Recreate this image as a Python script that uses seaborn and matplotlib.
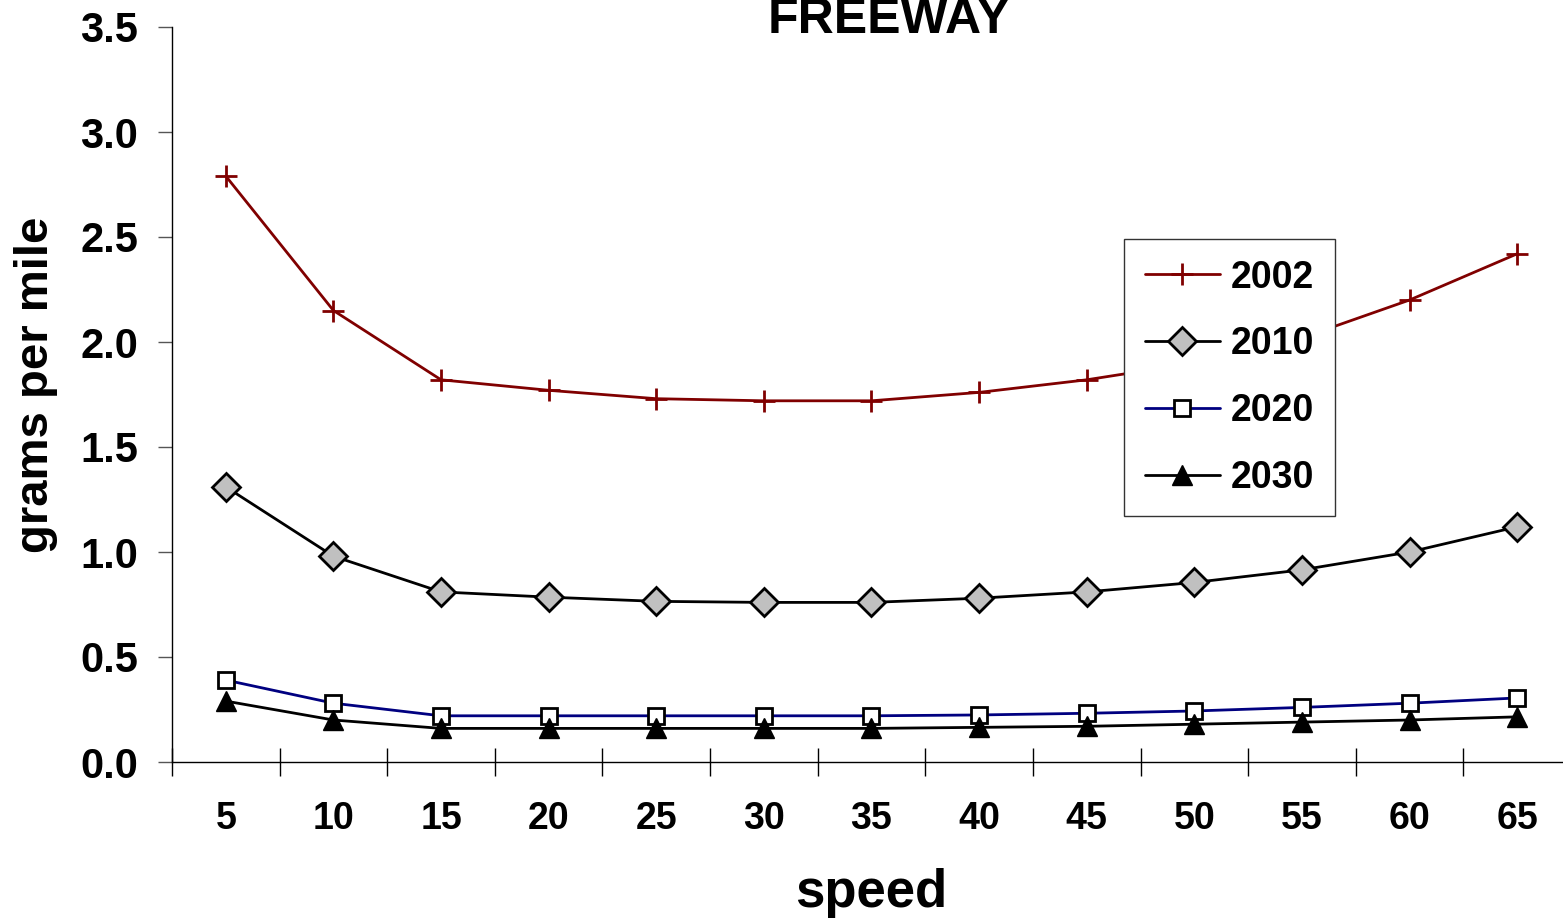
import numpy as np
import pandas as pd
import matplotlib
matplotlib.use("Agg")
import matplotlib.pyplot as plt
from matplotlib.ticker import FixedLocator, MultipleLocator, FormatStrFormatter
import seaborn as sns

speeds = ["5", "10", "15", "20", "25", "30", "35", "40", "45", "50", "55", "60", "65"]
y2002 = [2.79, 2.15, 1.82, 1.77, 1.73, 1.72, 1.72, 1.76, 1.82, 1.90, 2.02, 2.20, 2.42]
y2010 = [1.31, 0.98, 0.81, 0.785, 0.765, 0.76, 0.76, 0.78, 0.81, 0.855, 0.915, 1.00, 1.12]
y2020 = [0.39, 0.28, 0.22, 0.22, 0.22, 0.22, 0.22, 0.224, 0.232, 0.243, 0.26, 0.28, 0.305]
y2030 = [0.29, 0.20, 0.16, 0.16, 0.16, 0.16, 0.16, 0.165, 0.17, 0.18, 0.19, 0.20, 0.215]
series_names = ["2002", "2010", "2020", "2030"]

sns.set_style("white")
plt.rcParams["font.family"] = ["Liberation Sans", "DejaVu Sans"]
plt.rcParams["font.weight"] = "bold"
plt.rcParams["text.color"] = "black"
plt.rcParams["xtick.color"] = "black"
plt.rcParams["ytick.color"] = "black"

W, H = 1563, 924
fig = plt.figure(figsize=(W / 100, H / 100), dpi=100)
ax = fig.add_axes([172 / W, (H - 762) / H, (1571 - 172) / W, (762 - 27) / H])

styles = {
    "2002": dict(color="#800000", marker="+", markersize=16, markeredgewidth=2.0,
                 markeredgecolor="#800000"),
    "2010": dict(color="black", marker="D", markersize=14, markeredgewidth=2.0,
                 markerfacecolor="#C0C0C0", markeredgecolor="black"),
    "2020": dict(color="#000080", marker="s", markersize=11, markeredgewidth=2.0,
                 markerfacecolor="white", markeredgecolor="black"),
    "2030": dict(color="black", marker="^", markersize=14, markeredgewidth=1.0,
                 markerfacecolor="black", markeredgecolor="black"),
}

for name, vals in zip(series_names, [y2002, y2010, y2020, y2030]):
    df = pd.DataFrame({"speed": speeds, "g": vals})
    sns.lineplot(data=df, x="speed", y="g", sort=False, ax=ax, linewidth=2.0,
                 label=name, **styles[name])

ax.set_xlim(-0.5, 12.5)
ax.set_ylim(0, 3.5)
ax.yaxis.set_major_locator(MultipleLocator(0.5))
ax.yaxis.set_major_formatter(FormatStrFormatter("%.1f"))
ax.xaxis.set_minor_locator(FixedLocator(np.arange(-0.5, 13, 1)))

for s in ["top", "right"]:
    ax.spines[s].set_visible(False)
for s in ["left", "bottom"]:
    ax.spines[s].set_color("black")
    ax.spines[s].set_linewidth(1.0)

ax.tick_params(axis="x", which="major", length=0, pad=28, labelsize=27,
               labelcolor="black")
ax.tick_params(axis="x", which="minor", direction="inout", length=20, width=1.0,
               color="black", bottom=True)
ax.tick_params(axis="y", which="major", direction="out", length=10, width=1.0,
               color="#555555", pad=14.5, labelsize=30, left=True, labelcolor="black")
for lab in ax.get_xticklabels() + ax.get_yticklabels():
    lab.set_fontweight("bold")
ax.set_xlabel("")
ax.set_ylabel("")

fig.text(889 / W, 1 - 33 / H, "FREEWAY", ha="center", va="baseline",
         fontsize=36, fontweight="bold", color="black")
fig.text(36 / W, 1 - 385 / H, "grams per mile", rotation=90, ha="center",
         va="center", fontsize=34, fontweight="bold", color="black")
fig.text(871 / W, 1 - 893 / H, "speed", ha="center", va="center",
         fontsize=38, fontweight="bold", color="black")

leg = ax.legend(loc="upper left", bbox_to_anchor=(1124 / W, 1 - 239 / H),
                bbox_transform=fig.transFigure, frameon=True, fancybox=False,
                edgecolor="#333333", facecolor="white", framealpha=1.0,
                fontsize=27, handlelength=2.0,
                handletextpad=0.3, labelspacing=0.82, borderpad=0.55,
                borderaxespad=0)
leg.get_frame().set_linewidth(1.0)
for t in leg.get_texts():
    t.set_fontweight("bold")
    t.set_color("black")

fig.savefig("out.png", dpi=100)
